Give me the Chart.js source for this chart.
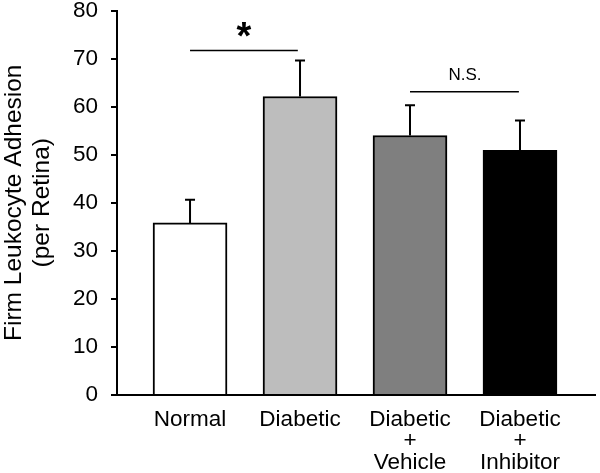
<!DOCTYPE html>
<html>
<head>
<meta charset="utf-8">
<script src="https://cdn.jsdelivr.net/npm/chart.js@4"></script>
<style>
  html, body { margin: 0; padding: 0; background: #fff; overflow: hidden; }
  #wrap { width: 600px; height: 489px; margin-top: -16px; }
</style>
</head>
<body>
<div id="wrap"><canvas id="chart"></canvas></div>
<script>
// Datos
const categories = [['Normal'], ['Diabetic'], ['Diabetic', '+', 'Vehicle'], ['Diabetic', '+', 'Inhibitor']];
const means = [35.8, 62.1, 54.0, 50.9];
const errors = [4.8, 7.5, 6.3, 6.2];
const barColors = ['#ffffff', '#bdbdbd', '#7f7f7f', '#000000'];
const yTicks = [0, 10, 20, 30, 40, 50, 60, 70, 80];

const FONT = "'Liberation Sans', Arial, Helvetica, sans-serif";

// Barras de error (solo hacia arriba) y marcas de significancia
const extras = {
    id: 'extras',
    afterDatasetsDraw(chart) {
        const ctx = chart.ctx;
        const x = chart.scales.x;
        const y = chart.scales.y;
        ctx.save();
        ctx.strokeStyle = '#000';
        ctx.lineWidth = 2;
        means.forEach((m, i) => {
            const px = x.getPixelForValue(i);
            const top = y.getPixelForValue(m + errors[i]);
            ctx.beginPath();
            ctx.moveTo(px, y.getPixelForValue(m));
            ctx.lineTo(px, top);
            ctx.moveTo(px - 5, top);
            ctx.lineTo(px + 5, top);
            ctx.stroke();
        });

        // Normal vs Diabetic
        ctx.lineWidth = 1.5;
        let ly = y.getPixelForValue(71.7);
        ctx.beginPath();
        ctx.moveTo(x.getPixelForValue(0), ly);
        ctx.lineTo(x.getPixelForValue(0.98), ly);
        ctx.stroke();
        ctx.fillStyle = '#000';
        ctx.textAlign = 'center';
        ctx.textBaseline = 'middle';
        ctx.font = 'bold 38px ' + FONT;
        ctx.fillText('*', x.getPixelForValue(0.49), ly - 12);

        // Vehicle vs Inhibitor
        ly = y.getPixelForValue(63.1);
        ctx.beginPath();
        ctx.moveTo(x.getPixelForValue(2), ly);
        ctx.lineTo(x.getPixelForValue(2.99), ly);
        ctx.stroke();
        ctx.font = '17px ' + FONT;
        ctx.textBaseline = 'alphabetic';
        ctx.fillText('N.S.', x.getPixelForValue(2.5), ly - 12);
        ctx.restore();
    }
};

const ctx = document.getElementById('chart').getContext('2d');
new Chart(ctx, {
    type: 'bar',
    data: {
        datasets: [{
            data: means.map((m, i) => ({ x: i, y: m })),
            backgroundColor: barColors,
            borderColor: '#000',
            borderWidth: 2,
            borderSkipped: 'bottom',
            barThickness: 74
        }]
    },
    options: {
        responsive: true,
        maintainAspectRatio: false,
        animation: false,
        events: [],
        layout: { padding: { top: 0, right: 5, bottom: 0, left: 0 } },
        plugins: {
            legend: { display: false },
            tooltip: { enabled: false }
        },
        scales: {
            x: {
                type: 'linear',
                offset: false,
                min: -0.664,
                max: 3.682,
                afterBuildTicks: (axis) => { axis.ticks = categories.map((c, i) => ({ value: i })); },
                afterFit: (axis) => { axis.height = 78; },
                grid: { display: false, offset: false },
                border: { display: true, color: '#000', width: 2 },
                ticks: {
                    color: '#000',
                    padding: 6,
                    maxRotation: 0,
                    autoSkip: false,
                    font: { family: FONT, size: 22.5, lineHeight: 0.95 },
                    callback: (v) => categories[v]
                }
            },
            y: {
                min: 0,
                max: 80,
                afterBuildTicks: (axis) => { axis.ticks = yTicks.map(v => ({ value: v })); },
                afterFit: (axis) => { axis.width = 117; },
                grid: { drawOnChartArea: false, color: '#000', lineWidth: 2, tickLength: 6 },
                border: { display: true, color: '#000', width: 2 },
                ticks: {
                    color: '#000',
                    padding: 13,
                    font: { family: FONT, size: 22.5 }
                },
                title: {
                    display: true,
                    text: ['Firm Leukocyte Adhesion', '(per Retina)'],
                    color: '#000',
                    padding: { top: 0, bottom: 0 },
                    font: { family: FONT, size: 24.5, lineHeight: 1.15 }
                }
            }
        }
    },
    plugins: [extras]
});
</script>
</body>
</html>
